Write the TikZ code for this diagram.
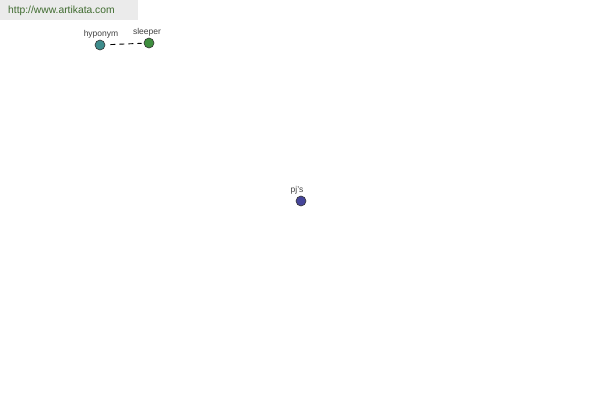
\documentclass[tikz,border=0pt]{standalone}
\usepackage{fontspec}
\setmainfont{Liberation Sans}
\definecolor{hdrbg}{HTML}{EBEBEB}
\definecolor{hdrtext}{HTML}{3F6B2F}
\definecolor{lbl}{HTML}{404040}
\definecolor{cteal}{HTML}{3D8C8C}
\definecolor{cgreen}{HTML}{3E8E3E}
\definecolor{cblue}{HTML}{45459A}
\tikzset{
  vert/.style={circle,draw=black!80,line width=0.6pt,minimum size=10pt,inner sep=0pt},
  vlabel/.style={font=\fontsize{8.5}{9}\selectfont,text=lbl,inner sep=0pt},
  link/.style={draw=black,line width=0.9pt,dash pattern=on 5pt off 4pt,shorten <=5pt,shorten >=2pt}
}
\begin{document}
\begin{tikzpicture}[x=1pt,y=-1pt]
\useasboundingbox (0,0) rectangle (600,400);
\fill[hdrbg] (0,0) rectangle (138,20);
\node[anchor=west,font=\fontsize{10.3}{12}\selectfont,text=hdrtext,inner sep=0pt] (url) at (8,11) {http://www.artikata.com};
\node[vert,fill=cteal] (hyponym) at (100,45) {};
\node[vert,fill=cgreen] (sleeper) at (149,43) {};
\node[vert,fill=cblue] (pjs) at (301,201) {};
\node[vlabel] (lhyp) at (101,34) {hyponym};
\node[vlabel] (lsle) at (147,32) {sleeper};
\node[vlabel] (lpjs) at (297,190) {pj's};
\draw[link] (hyponym) -- (sleeper);
\end{tikzpicture}
\end{document}
